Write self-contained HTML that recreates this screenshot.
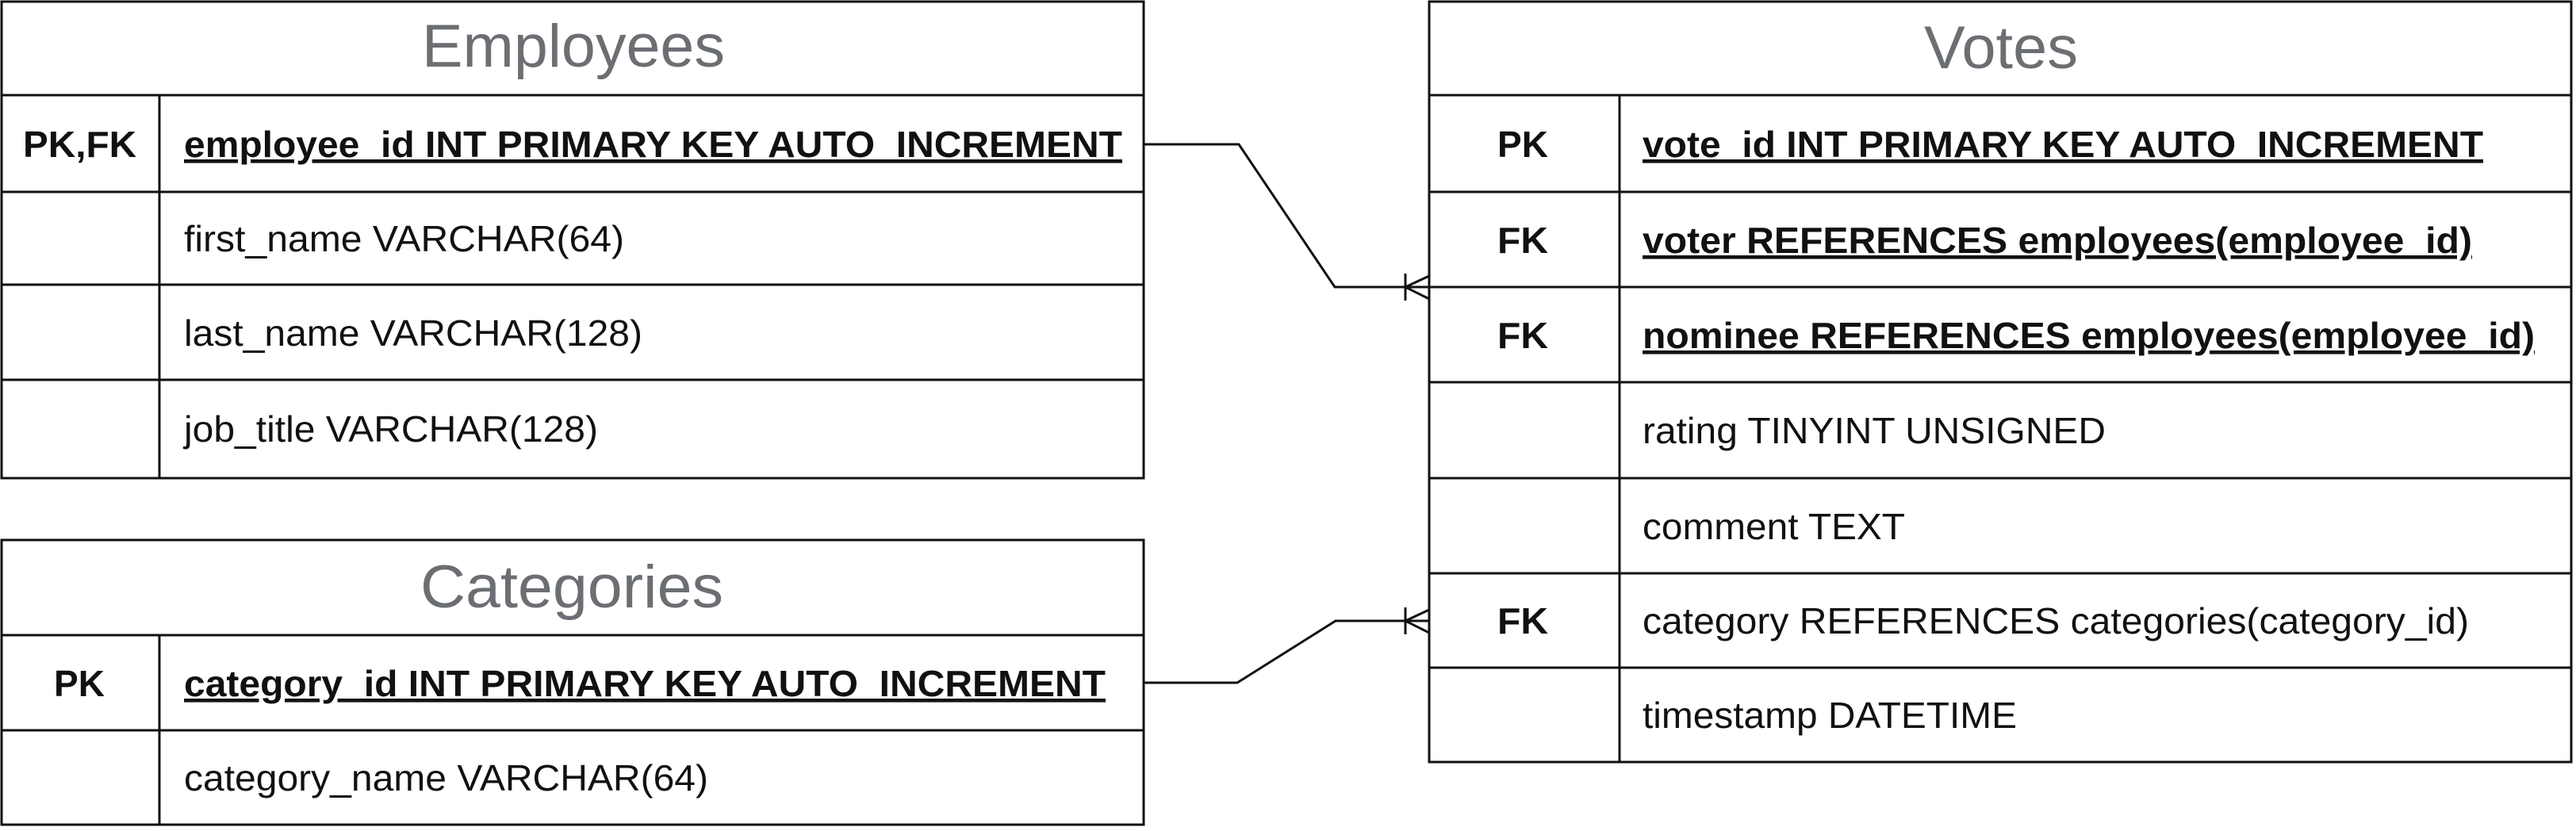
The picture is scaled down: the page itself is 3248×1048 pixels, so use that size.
<!DOCTYPE html>
<html><head><meta charset="utf-8"><style>
html,body{margin:0;padding:0;background:#fff;}
svg{display:block;}
text{font-family:"Liberation Sans",Arial,sans-serif;fill:#111;}
.t{font-size:76px;fill:#6b6e72;}
.f{font-size:46px;}
.b{font-weight:bold;}
</style></head><body>
<svg width="3248" height="1048" viewBox="0 0 3248 1048" xmlns="http://www.w3.org/2000/svg">
<g fill="none" stroke="#111" stroke-width="3">
<rect x="2" y="2" width="1440" height="601"/>
<line x1="2" y1="120" x2="1442" y2="120"/>
<line x1="2" y1="242" x2="1442" y2="242"/>
<line x1="2" y1="359" x2="1442" y2="359"/>
<line x1="2" y1="479" x2="1442" y2="479"/>
<line x1="201" y1="120" x2="201" y2="603"/>
<rect x="2" y="681" width="1440" height="359"/>
<line x1="2" y1="801" x2="1442" y2="801"/>
<line x1="2" y1="921" x2="1442" y2="921"/>
<line x1="201" y1="801" x2="201" y2="1040"/>
<rect x="1802" y="2" width="1440" height="959"/>
<line x1="1802" y1="120" x2="3242" y2="120"/>
<line x1="1802" y1="242" x2="3242" y2="242"/>
<line x1="1802" y1="362" x2="3242" y2="362"/>
<line x1="1802" y1="482" x2="3242" y2="482"/>
<line x1="1802" y1="603" x2="3242" y2="603"/>
<line x1="1802" y1="723" x2="3242" y2="723"/>
<line x1="1802" y1="842" x2="3242" y2="842"/>
<line x1="2042" y1="120" x2="2042" y2="961"/>
<polyline points="1442,182 1562,182 1683,362 1802,362"/>
<line x1="1772" y1="345" x2="1772" y2="379"/>
<polyline points="1802,348 1772,362 1802,377"/>
<polyline points="1442,861 1560,861 1684,783 1802,783"/>
<line x1="1772" y1="766" x2="1772" y2="800"/>
<polyline points="1802,769 1772,783 1802,798"/>
</g>
<text class="t" x="532" y="84" textLength="382" lengthAdjust="spacingAndGlyphs">Employees</text>
<text class="t" x="530" y="766" textLength="382" lengthAdjust="spacingAndGlyphs">Categories</text>
<text class="t" x="2426" y="86" textLength="194" lengthAdjust="spacingAndGlyphs">Votes</text>
<text class="f b" x="29" y="198" textLength="143" lengthAdjust="spacingAndGlyphs">PK,FK</text>
<text class="f b" x="232" y="198" textLength="1183" lengthAdjust="spacingAndGlyphs" text-decoration="underline">employee_id INT PRIMARY KEY AUTO_INCREMENT</text>
<text class="f" x="232" y="317" textLength="555" lengthAdjust="spacingAndGlyphs">first_name VARCHAR(64)</text>
<text class="f" x="232" y="436" textLength="578" lengthAdjust="spacingAndGlyphs">last_name VARCHAR(128)</text>
<text class="f" x="232" y="557" textLength="522" lengthAdjust="spacingAndGlyphs">job_title VARCHAR(128)</text>
<text class="f b" x="68" y="878" textLength="64" lengthAdjust="spacingAndGlyphs">PK</text>
<text class="f b" x="232" y="878" textLength="1162" lengthAdjust="spacingAndGlyphs" text-decoration="underline">category_id INT PRIMARY KEY AUTO_INCREMENT</text>
<text class="f" x="232" y="997" textLength="661" lengthAdjust="spacingAndGlyphs">category_name VARCHAR(64)</text>
<text class="f b" x="1888" y="198" textLength="64" lengthAdjust="spacingAndGlyphs">PK</text>
<text class="f b" x="2071" y="198" textLength="1060" lengthAdjust="spacingAndGlyphs" text-decoration="underline">vote_id INT PRIMARY KEY AUTO_INCREMENT</text>
<text class="f b" x="1888" y="319" textLength="64" lengthAdjust="spacingAndGlyphs">FK</text>
<text class="f b" x="2071" y="319" textLength="1046" lengthAdjust="spacingAndGlyphs" text-decoration="underline">voter REFERENCES employees(employee_id)</text>
<text class="f b" x="1888" y="439" textLength="64" lengthAdjust="spacingAndGlyphs">FK</text>
<text class="f b" x="2071" y="439" textLength="1125" lengthAdjust="spacingAndGlyphs" text-decoration="underline">nominee REFERENCES employees(employee_id)</text>
<text class="f" x="2071" y="559" textLength="584" lengthAdjust="spacingAndGlyphs">rating TINYINT UNSIGNED</text>
<text class="f" x="2071" y="680" textLength="331" lengthAdjust="spacingAndGlyphs">comment TEXT</text>
<text class="f b" x="1888" y="799" textLength="64" lengthAdjust="spacingAndGlyphs">FK</text>
<text class="f" x="2071" y="799" textLength="1042" lengthAdjust="spacingAndGlyphs">category REFERENCES categories(category_id)</text>
<text class="f" x="2071" y="918" textLength="472" lengthAdjust="spacingAndGlyphs">timestamp DATETIME</text>
</svg>
</body></html>
